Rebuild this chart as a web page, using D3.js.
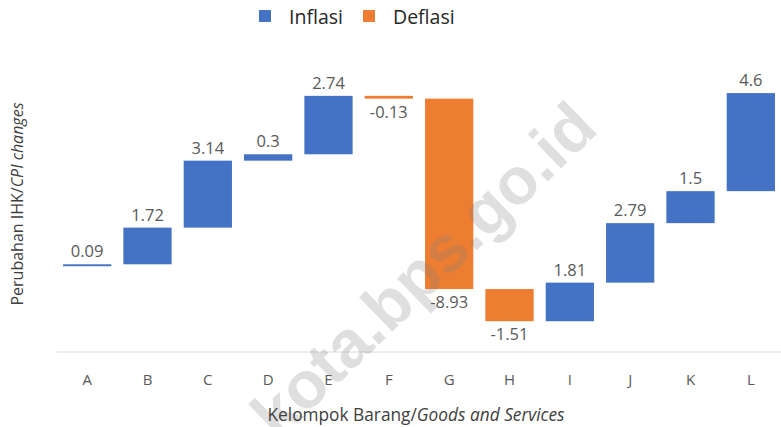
<!DOCTYPE html>
<html>
<head>
<meta charset="utf-8">
<script src="https://cdn.jsdelivr.net/npm/d3@7/dist/d3.min.js"></script>
<style>
  html, body { margin: 0; padding: 0; background: #fff; }
  svg { display: block; }
</style>
</head>
<body>
<svg id="chart" width="781" height="427"></svg>
<script>
const categories = ["A","B","C","D","E","F","G","H","I","J","K","L"];
const values = [0.09, 1.72, 3.14, 0.3, 2.74, -0.13, -8.93, -1.51, 1.81, 2.79, 1.5, 4.6];
const legendLabels = ["Inflasi", "Deflasi"];
const yDomain = [-4, 10];

const colors = { up: "#4472C4", down: "#ED7D31" };
const W = 781, H = 427;
const margin = { left: 57, right: 0, top: 53, bottom: 75.5 };

const svg = d3.select("#chart");
const font = "'Open Sans', 'Noto Sans', sans-serif";

// waterfall table
let run = 0;
const rows = categories.map((c, i) => {
  const start = run;
  run += values[i];
  return { cat: c, v: values[i], start, end: run };
});

const x = d3.scaleBand()
  .domain(categories)
  .range([margin.left, W - margin.right])
  .paddingInner(0.2)
  .paddingOuter(0.1);

const y = d3.scaleLinear()
  .domain(yDomain)
  .range([H - margin.bottom, margin.top]);

// x axis line
const xAxis = svg.append("g")
  .attr("transform", `translate(0,${y(yDomain[0])})`)
  .call(d3.axisBottom(x).tickSize(0).tickPadding(0).tickSizeOuter(0));
xAxis.select(".domain").attr("stroke", "#d9d9d9").attr("stroke-width", 1)
  .attr("d", `M${margin.left},0.5H${W}`);
xAxis.selectAll(".tick text")
  .attr("dy", 0)
  .attr("y", 33)
  .attr("font-family", font)
  .attr("font-size", 15)
  .attr("fill", "#595959");

// bars
svg.append("g").selectAll("rect")
  .data(rows)
  .join("rect")
  .attr("x", d => x(d.cat))
  .attr("width", x.bandwidth())
  .attr("y", d => y(Math.max(d.start, d.end)))
  .attr("height", d => Math.max(1.2, Math.abs(y(d.start) - y(d.end))))
  .attr("fill", d => d.v >= 0 ? colors.up : colors.down);

// watermark (over the bars, semi-transparent)
svg.append("text")
  .attr("transform", "translate(600,131) rotate(-44)")
  .attr("text-anchor", "end")
  .attr("font-family", "'Liberation Sans', Arial, sans-serif")
  .attr("font-weight", "bold")
  .attr("font-size", 66)
  .attr("fill", "#808080")
  .attr("fill-opacity", 0.25)
  .text("kota.bps.go.id");

// data labels
svg.append("g").selectAll("text")
  .data(rows)
  .join("text")
  .attr("x", d => x(d.cat) + x.bandwidth() / 2)
  .attr("y", d => d.v >= 0 ? y(d.end) - 7 : y(d.end) + 19)
  .attr("text-anchor", "middle")
  .attr("font-family", font)
  .attr("font-size", 16.5)
  .attr("fill", "#595959")
  .text(d => d.v);

// y axis title
const yt = svg.append("text")
  .attr("transform", `translate(23,${204}) rotate(-90)`)
  .attr("text-anchor", "middle")
  .attr("font-family", font)
  .attr("font-size", 16)
  .attr("fill", "#404040");
yt.append("tspan").text("Perubahan IHK/");
yt.append("tspan").attr("font-style", "italic").text("CPI changes");

// x axis title
const xt = svg.append("text")
  .attr("x", 416)
  .attr("y", 421)
  .attr("text-anchor", "middle")
  .attr("font-family", font)
  .attr("font-size", 17.3)
  .attr("fill", "#404040");
xt.append("tspan").text("Kelompok Barang/");
xt.append("tspan").attr("font-style", "italic").text("Goods and Services");

// legend
const legendColors = [colors.up, colors.down];
const legendX = [259, 363];
const lg = svg.append("g").selectAll("g")
  .data(legendLabels)
  .join("g")
  .attr("transform", (d, i) => `translate(${legendX[i]},0)`);
lg.append("rect")
  .attr("x", 0).attr("y", 10)
  .attr("width", 12).attr("height", 12)
  .attr("fill", (d, i) => legendColors[i]);
lg.append("text")
  .attr("x", 30).attr("y", 24)
  .attr("font-family", font)
  .attr("font-size", 19.5)
  .attr("fill", "#262626")
  .text(d => d);
</script>
</body>
</html>
